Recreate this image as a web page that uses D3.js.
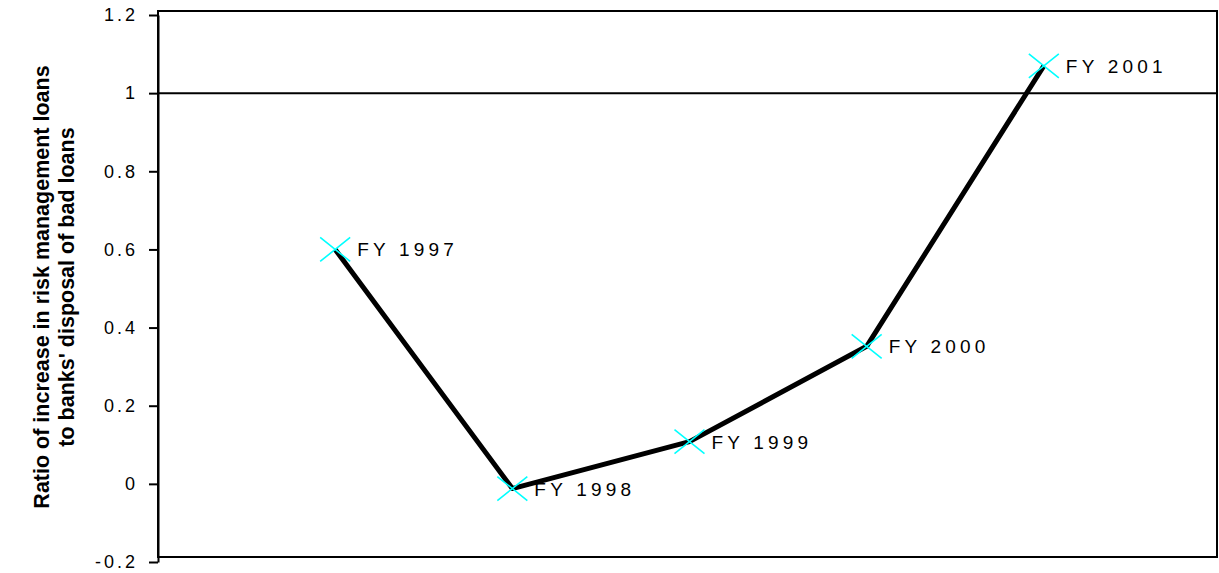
<!DOCTYPE html>
<html>
<head>
<meta charset="utf-8">
<script src="https://cdn.jsdelivr.net/npm/d3@7"></script>
<style>
  body { margin: 0; background: #fff; }
  svg { display: block; font-family: Arial, "Liberation Sans", sans-serif; }
</style>
</head>
<body>
<div id="chart"></div>
<script>
// data
const years = ['FY 1997', 'FY 1998', 'FY 1999', 'FY 2000', 'FY 2001']
const ratios = [0.60, -0.012, 0.108, 0.352, 1.07]
const yTicks = [-0.2, 0, 0.2, 0.4, 0.6, 0.8, 1, 1.2]
const titleLines = ['Ratio of increase in risk management loans', "to banks' disposal of bad loans"]

const width = 1219
const height = 573
const frame = { left: 158, top: 11, right: 1217, bottom: 557 }

const svg = d3.select('#chart').append('svg')
  .attr('width', width)
  .attr('height', height)

const xScale = d3.scaleLinear()
  .domain([0, years.length + 1])
  .range([158, 1221])

const yScale = d3.scaleLinear()
  .domain([-0.2, 1.2])
  .range([562, 15])

// plot frame
svg.append('rect')
  .attr('x', frame.left)
  .attr('y', frame.top)
  .attr('width', frame.right - frame.left)
  .attr('height', frame.bottom - frame.top)
  .attr('fill', 'none')
  .attr('stroke', '#000')
  .attr('stroke-width', 2)

// reference line at 1
svg.append('line')
  .attr('x1', frame.left)
  .attr('x2', frame.right)
  .attr('y1', yScale(1))
  .attr('y2', yScale(1))
  .attr('stroke', '#000')
  .attr('stroke-width', 2)

// y axis
const yAxis = d3.axisLeft(yScale)
  .tickValues(yTicks)
  .tickSize(9)
  .tickSizeOuter(0)
  .tickPadding(11)
  .tickFormat(d => String(+d.toFixed(1)))

const gY = svg.append('g')
  .attr('transform', `translate(${frame.left},0)`)
  .call(yAxis)
gY.select('.domain').attr('stroke', '#000').attr('stroke-width', 2)
gY.selectAll('.tick line').attr('stroke', '#000').attr('stroke-width', 2)
gY.selectAll('.tick text')
  .attr('font-size', 18)
  .attr('font-family', 'Arial, "Liberation Sans", sans-serif')
  .attr('letter-spacing', 3)
  .attr('fill', '#000')

// axis title
const gTitle = svg.append('g')
  .attr('transform', `translate(0,${(frame.top + frame.bottom) / 2 + 3}) rotate(-90)`)
gTitle.selectAll('text')
  .data(titleLines)
  .enter()
  .append('text')
  .attr('x', 0)
  .attr('y', (d, i) => 49 + i * 25)
  .attr('text-anchor', 'middle')
  .attr('font-size', 21.5)
  .attr('font-weight', 'bold')
  .attr('fill', '#000')
  .text(d => d)

// series line
const points = years.map((d, i) => ({ year: d, x: i + 1, y: ratios[i] }))

svg.append('path')
  .datum(points)
  .attr('fill', 'none')
  .attr('stroke', '#000')
  .attr('stroke-width', 5)
  .attr('stroke-linejoin', 'round')
  .attr('d', d3.line().x(d => xScale(d.x)).y(d => yScale(d.y)))

// cross markers
const gMarks = svg.append('g')
gMarks.selectAll('path')
  .data(points)
  .enter()
  .append('path')
  .attr('transform', d => `translate(${xScale(d.x)},${yScale(d.y)})`)
  .attr('d', 'M-15,-12L15,12M-15,12L15,-12')
  .attr('stroke', '#00ffff')
  .attr('stroke-width', 1.6)
  .attr('fill', 'none')

// point labels
svg.append('g').selectAll('text')
  .data(points)
  .enter()
  .append('text')
  .attr('x', d => xScale(d.x) + 22)
  .attr('y', d => yScale(d.y) + 7)
  .attr('font-size', 19)
  .attr('letter-spacing', 4.2)
  .attr('fill', '#000')
  .text(d => d.year)
</script>
</body>
</html>
